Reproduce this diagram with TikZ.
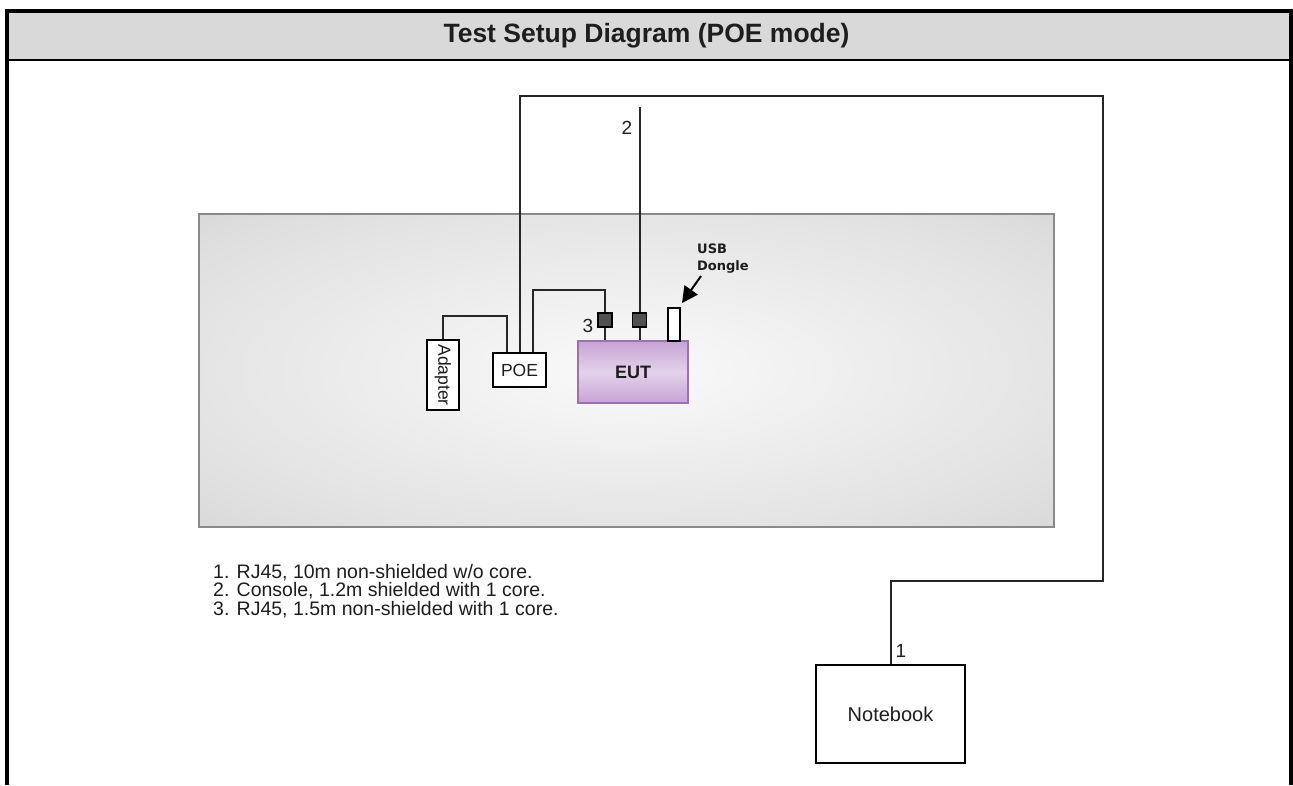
\documentclass[tikz,border=0pt]{standalone}
\usepackage{fontspec}
\setmainfont{Liberation Sans}
\newfontfamily\dejabold{DejaVu Sans}[BoldFont={DejaVu Sans Bold}]
\usetikzlibrary{arrows.meta,calc}
\definecolor{hdr}{HTML}{D9D9D9}
\definecolor{cablec}{HTML}{262626}
\definecolor{txt}{HTML}{1E1E1E}
\definecolor{panelb}{HTML}{8A8A8A}
\definecolor{pc0}{HTML}{FAFAFA}
\definecolor{pc1}{HTML}{E0E0E0}
\definecolor{pc2}{HTML}{C6C6C6}
\definecolor{eutA}{HTML}{C7A3D5}
\definecolor{eutB}{HTML}{E3D2EA}
\definecolor{eutD}{HTML}{9C72AC}
\definecolor{connc}{HTML}{505050}
\pgfdeclareradialshading{panelshade}{\pgfpoint{0bp}{0bp}}{color(0bp)=(pc0); color(30bp)=(pc1); color(50bp)=(pc2); color(72bp)=(pc2)}
\begin{document}
\begin{tikzpicture}[x=1pt,y=-1pt,
  cable/.style={draw=cablec, line width=2pt},
  box/.style={draw=black, line width=2pt, fill=white, inner sep=0pt},
  lbl/.style={font=\fontsize{19}{19}\selectfont, text=txt, inner sep=0pt},
  leg/.style={font=\fontsize{19.5}{18.7}\selectfont, text=txt, inner sep=0pt, anchor=base west},
  conn/.style={draw=black, fill=connc, line width=1.2pt, minimum size=14pt, inner sep=0pt},
  ]
\useasboundingbox (0,0) rectangle (1293,785);
\fill[white] (0,0) rectangle (1293,785);
% header and frame
\fill[hdr] (7,11) rectangle (1291,60);
\draw[line width=4pt] (7,785) -- (7,11) -- (1291,11) -- (1291,785);
\draw[line width=2.5pt] (7,60) -- (1291,60);
\node[font=\bfseries\fontsize{26.5}{26.5}\selectfont, text=txt, inner sep=0pt] (title) at (646.5,36) {Test Setup Diagram (POE mode)};
% table panel
\node[draw=panelb, line width=2pt, shading=panelshade, minimum width=855pt, minimum height=313pt, inner sep=0pt] (panel) at (626.5,370.5) {};
% devices
\node[box, minimum width=32pt, minimum height=70pt] (adapter) at (443,375) {};
\node[font=\fontsize{17.5}{17.5}\selectfont, text=txt, rotate=-90, inner sep=0pt] (adaptertext) at (adapter.center) {Adapter};
\node[box, minimum width=53pt, minimum height=34pt, font=\fontsize{17.5}{17.5}\selectfont, text=txt] (poe) at (519.5,370) {POE};
\node[draw=eutD, line width=1.8pt, top color=eutA, bottom color=eutA, middle color=eutB, minimum width=110pt, minimum height=62pt, inner sep=0pt, font=\bfseries\fontsize{18}{18}\selectfont, text=txt] (eut) at (633,372) {EUT};
\node[conn] (c3) at (605,320) {};
\node[conn] (c2) at (639.5,320) {};
\node[box, minimum width=12pt, minimum height=33pt] (dongle) at (674,324.5) {};
\node[box, minimum width=149pt, minimum height=98pt, font=\fontsize{20}{20}\selectfont, text=txt] (notebook) at (890.5,714) {Notebook};
% cable coordinates
\coordinate (ad1) at (443,316);
\coordinate (ad2) at (507,316);
\coordinate (c1a) at (519.5,96);
\coordinate (c1b) at (1103,96);
\coordinate (c1c) at (1103,581);
\coordinate (c1d) at (890.5,581);
\coordinate (c3a) at (533,290);
\coordinate (c3b) at (605,290);
\coordinate (c2top) at (639.5,107);
% cables
\draw[cable] (adapter.north) -- (ad1) -- (ad2) -- (ad2 |- poe.north);
\draw[cable] (poe.north) -- (c1a) -- (c1b) -- (c1c) -- (c1d) -- (notebook.north);
\draw[cable] (c3a |- poe.north) -- (c3a) -- (c3b) -- (c3.north);
\draw[cable] (c3.south) -- (c3.south |- eut.north);
\draw[cable] (c2top) -- (c2.north);
\draw[cable] (c2.south) -- (c2.south |- eut.north);
% cable labels
\node[lbl] (l2) at (627,128) {2};
\node[lbl] (l3) at (588,326) {3};
\node[lbl] (l1) at (901,651) {1};
% USB dongle label and arrow
\node[font=\dejabold\bfseries\fontsize{13}{17}\selectfont, text=txt, align=left, anchor=north west, inner sep=0pt] (usb) at (697,244) {USB\\Dongle};
\coordinate (atail) at (701,276);
\coordinate (atip) at (682,303);
\draw[black, line width=2pt, -{Triangle[length=16pt,width=16pt]}] (atail) -- (atip);
% legend
\node[leg] (leg1) at (213,578) {1. RJ45, 10m non-shielded w/o core.};
\node[leg] (leg2) at (213,596.7) {2. Console, 1.2m shielded with 1 core.};
\node[leg] (leg3) at (213,615.4) {3. RJ45, 1.5m non-shielded with 1 core.};
\end{tikzpicture}
\end{document}
